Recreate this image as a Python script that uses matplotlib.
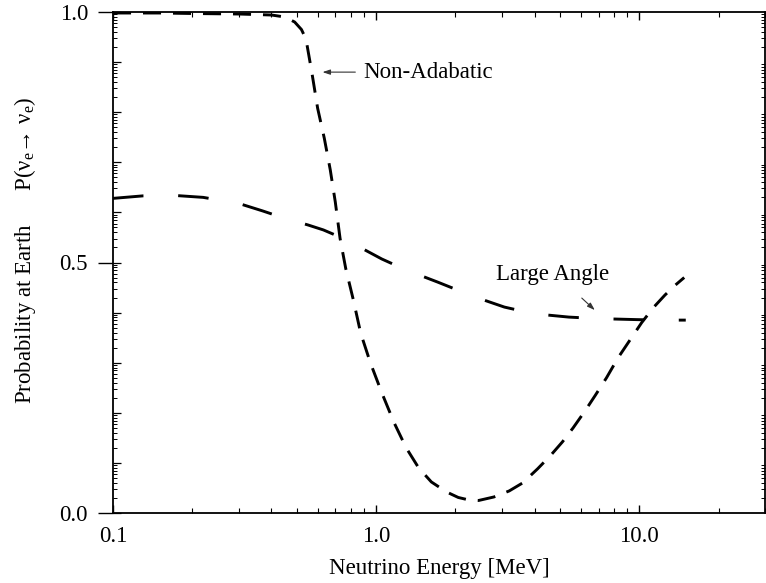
import numpy as np
import matplotlib
matplotlib.use("Agg")
import matplotlib.pyplot as plt
from matplotlib.ticker import FixedLocator, NullLocator, NullFormatter, FixedFormatter

plt.rcParams['font.family'] = ['Liberation Serif', 'DejaVu Serif']
plt.rcParams['mathtext.fontset'] = 'custom'
plt.rcParams['mathtext.rm'] = 'Liberation Serif'
plt.rcParams['mathtext.it'] = 'Liberation Serif:italic'
plt.rcParams['lines.scale_dashes'] = False

# ---- data ----
nonadiabatic_E = [0.1, 0.15, 0.2, 0.3, 0.4, 0.45, 0.49, 0.52, 0.541, 0.570, 0.599, 0.635,
                  0.669, 0.699, 0.729, 0.766, 0.819, 0.873, 0.95, 1.05, 1.17, 1.3, 1.45,
                  1.62, 1.85, 2.05, 2.25, 2.45, 2.8, 3.2, 3.6, 4.1, 4.6, 5.1, 5.6, 6.2,
                  6.8, 7.5, 8.3, 9.2, 10.2, 11.3, 12.5, 13.7, 14.8]
nonadiabatic_P = [0.998, 0.998, 0.997, 0.996, 0.994, 0.990, 0.980, 0.965, 0.946, 0.878, 0.808,
                  0.748, 0.685, 0.621, 0.548, 0.488, 0.425, 0.359, 0.300, 0.240, 0.180, 0.130,
                  0.090, 0.062, 0.042, 0.031, 0.026, 0.025, 0.032, 0.044, 0.060, 0.088, 0.115,
                  0.142, 0.170, 0.203, 0.235, 0.270, 0.310, 0.345, 0.380, 0.410, 0.435, 0.455,
                  0.470]

largeangle_E = [0.1, 0.13, 0.17, 0.22, 0.3, 0.37, 0.45, 0.55, 0.63, 0.75, 0.87, 1.05, 1.3,
                1.71, 2.2, 2.6, 3.07, 3.8, 4.5, 5.4, 7.0, 9.75, 12.0, 15.0]
largeangle_P = [0.628, 0.633, 0.634, 0.630, 0.618, 0.603, 0.588, 0.575, 0.565, 0.548, 0.530,
                0.507, 0.485, 0.461, 0.438, 0.424, 0.411, 0.400, 0.395, 0.391, 0.388, 0.386,
                0.385, 0.385]

x_major = [0.1, 1.0, 10.0]
x_major_labels = ['0.1', '1.0', '10.0']
y_major = [0.0, 0.5, 1.0]
y_major_labels = ['0.0', '0.5', '1.0']

FS = 16.5
W, H = 766, 583
fig = plt.figure(figsize=(W / 100, H / 100), dpi=100)
ax = fig.add_axes([113 / W, 1 - 513 / H, (765 - 113) / W, (513 - 12) / H])

ax.plot(nonadiabatic_E, nonadiabatic_P, color='black', lw=2.1,
        dashes=(13, 8.6), solid_capstyle='butt', dash_capstyle='butt')
ax.plot(largeangle_E, largeangle_P, color='black', lw=2.1,
        dashes=(22, 25), solid_capstyle='butt', dash_capstyle='butt')

ax.set_xscale('log')
ax.set_xlim(0.1, 30)
ax.set_ylim(0, 1)

# x ticks
ax.xaxis.set_major_locator(FixedLocator(x_major))
ax.xaxis.set_major_formatter(FixedFormatter(x_major_labels))
minor_x = [m * d for d in (0.1, 1.0, 10.0) for m in range(2, 10) if m * d <= 30]
ax.xaxis.set_minor_locator(FixedLocator(minor_x))
ax.xaxis.set_minor_formatter(NullFormatter())
ax.tick_params(axis='x', which='major', direction='in', length=6, width=1.0,
               top=True, bottom=True, pad=9, labelsize=FS)
ax.tick_params(axis='x', which='minor', direction='in', length=3.5, width=0.8,
               top=True, bottom=True)

# y ticks
ax.yaxis.set_major_locator(FixedLocator(y_major))
ax.yaxis.set_major_formatter(FixedFormatter(y_major_labels))
ax.yaxis.set_minor_locator(FixedLocator([i / 10 for i in range(0, 11)]))
ax.yaxis.remove_overlapping_locs = False
ax.tick_params(axis='y', which='major', direction='out', length=11, width=1.0,
               left=True, right=False, pad=7, labelsize=FS)
ax.tick_params(axis='y', which='minor', direction='in', length=6, width=0.9,
               left=True, right=True)

ax2 = ax.twinx()
ax2.set_ylim(0, 1)
small = [a / 10 + 0.1 * np.log10(k) for a in range(10) for k in range(2, 10)]
ax2.yaxis.set_major_locator(FixedLocator(small))
ax2.yaxis.set_minor_locator(NullLocator())
ax2.tick_params(axis='y', which='major', direction='in', length=3, width=0.7,
                left=True, right=True, labelleft=False, labelright=False)
for s in ax2.spines.values():
    s.set_visible(False)

for s in ax.spines.values():
    s.set_linewidth(1.3)

ax.set_xlabel('Neutrino Energy [MeV]', fontsize=FS, labelpad=8)
fig.text(25 / W, 1 - 250 / H,
         'Probability at Earth      P($\\mathrm{\u03bd_e}$\u2192 $\\mathrm{\u03bd_e}$)',
         rotation=90, ha='center', va='center', fontsize=FS)

# annotations
ax.annotate('', xy=(0.625, 0.88), xytext=(0.833, 0.88),
            arrowprops=dict(arrowstyle='-|>,head_length=0.45,head_width=0.15',
                            color='#333333', lw=0.8, shrinkA=0, shrinkB=0))
ax.text(0.893, 0.88, 'Non-Adabatic', fontsize=FS, ha='left', va='center')

ax.annotate('', xy=(6.77, 0.405), xytext=(6.04, 0.429),
            arrowprops=dict(arrowstyle='-|>,head_length=0.45,head_width=0.15',
                            color='#333333', lw=0.8, shrinkA=0, shrinkB=0))
ax.text(2.84, 0.465, 'Large Angle', fontsize=FS, ha='left', va='baseline')

fig.savefig('out.png', dpi=100)
